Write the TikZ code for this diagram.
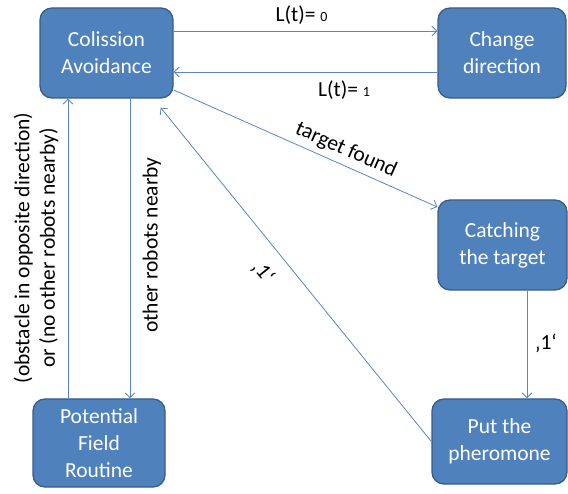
\documentclass[tikz,border=0pt]{standalone}
\usepackage{fontspec}
\setmainfont{Carlito}
\usetikzlibrary{arrows.meta,calc}
\definecolor{boxfill}{HTML}{4F81BD}
\definecolor{boxline}{HTML}{385D8A}
\definecolor{arrowcol}{HTML}{5B86C0}
\tikzset{
  state/.style={draw=boxline, line width=1.3pt, fill=boxfill, rounded corners=12pt,
    text=white, align=center, inner sep=0pt, font=\fontsize{21.5}{27}\selectfont},
  conn/.style={draw=arrowcol, line width=0.8pt, -{Straight Barb[length=5pt,width=10pt]}},
  lbl/.style={inner sep=0pt, align=center, text=black, font=\fontsize{21.5}{25.5}\selectfont},
}
\newcommand{\smalldigit}[1]{{\fontsize{14}{14}\selectfont #1}}
\begin{document}
\begin{tikzpicture}[x=1pt,y=-1pt]
\fill[white] (0,0) rectangle (568,494);
\useasboundingbox (0,0) rectangle (568,494);
% states
\node[state, minimum width=133pt, minimum height=90pt] (CA) at (106.5,53) {Colission\\Avoidance};
\node[state, minimum width=128pt, minimum height=90pt] (CD) at (502,53) {Change\\direction};
\node[state, minimum width=129pt, minimum height=90pt] (CT) at (502.5,245) {Catching\\the target};
\node[state, minimum width=135pt, minimum height=85pt] (PP) at (499.5,441.5) {Put the\\pheromone};
\node[state, minimum width=132pt, minimum height=88pt] (PF) at (99,443) {Potential\\Field\\Routine};
% free end near the bottom of CA
\coordinate (CAtip) at ($(CA.south east)+(-13,9)$);
% connectors
\draw[conn] (CA.east |- 0,31) -- (CD.west |- 0,31);
\draw[conn] (CD.west |- 0,72) -- (CA.east |- 0,72);
\draw[conn] (CA.east |- 0,90) -- (CT.west |- 0,207);
\draw[conn] (PP.west) -- (CAtip);
\draw[conn] (CA.south -| 130,0) -- (PF.north -| 130,0);
\draw[conn] (PF.north -| 68,0) -- (CA.south -| 68,0);
\draw[conn] (CT.south -| 527,0) -- (PP.north -| 527,0);
% labels
\node[lbl] (l0) at (301.5,15) {L(t)= \smalldigit{0}};
\node[lbl] (l1) at (344,90) {L(t)= \smalldigit{1}};
\node[lbl, rotate=-24] (ltf) at (346,150) {target found};
\node[lbl, rotate=-51] (lone) at (263,272) {‚1‘};
\node[lbl] (ltwo) at (546,343) {‚1‘};
\node[lbl, rotate=90] (lor) at (152,245) {other robots nearby};
\node[lbl, rotate=90] (lobs) at (36,248) {(obstacle in opposite direction)\\or (no other robots nearby)};
\end{tikzpicture}
\end{document}
